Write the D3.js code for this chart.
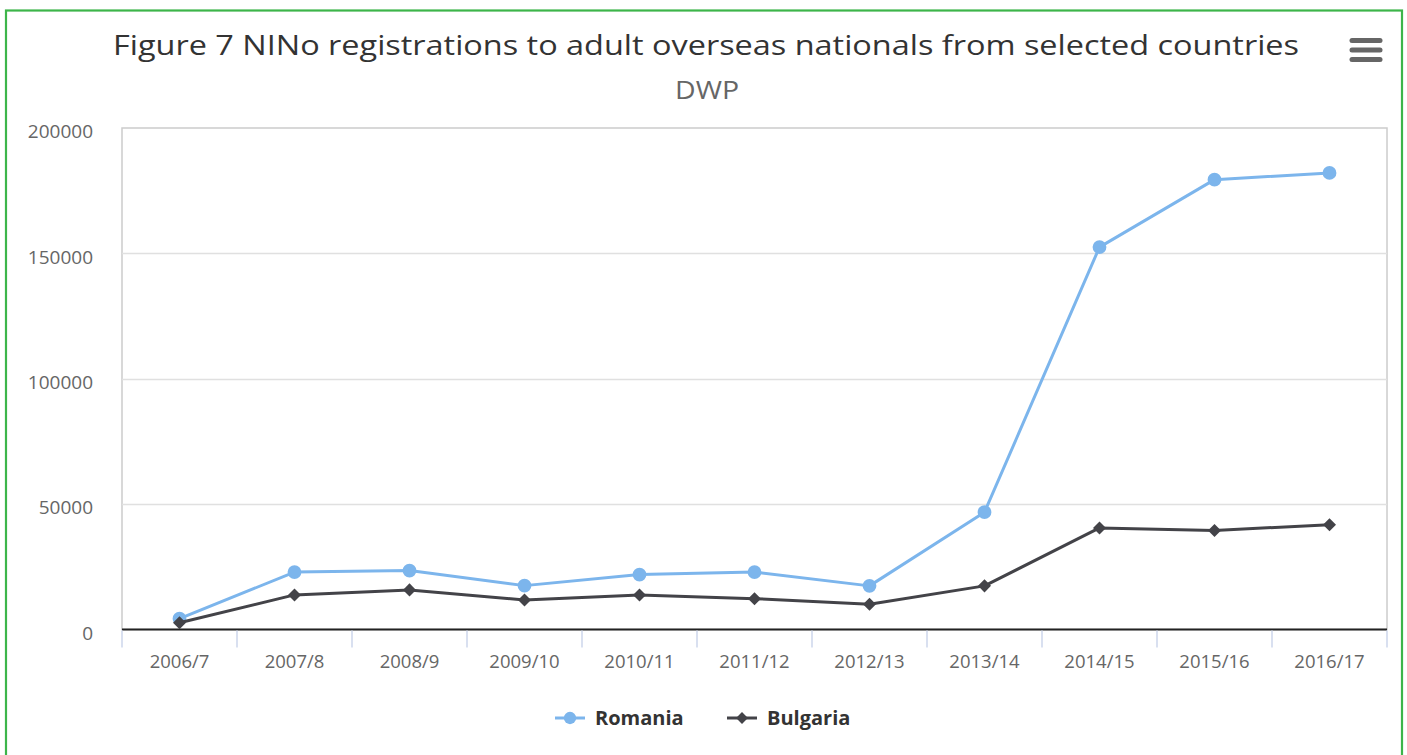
<!DOCTYPE html>
<html>
<head>
<meta charset="utf-8">
<script src="https://cdn.jsdelivr.net/npm/d3@7"></script>
<style>
  html, body { margin: 0; padding: 0; background: #fff; }
  svg { display: block; font-family: "Open Sans", "Noto Sans", sans-serif; }
</style>
</head>
<body>
<svg id="chart" width="1407" height="755"></svg>
<script>
// NINo registrations by year of registration
const years = ["2006/7", "2007/8", "2008/9", "2009/10", "2010/11", "2011/12",
               "2012/13", "2013/14", "2014/15", "2015/16", "2016/17"];
const romania  = [4300, 22900, 23500, 17500, 21900, 22900, 17400, 46800, 152500, 179400, 182100];
const bulgaria = [2700, 13800, 15800, 11800, 13800, 12300, 10100, 17400, 40500, 39500, 41800];
const yTicks = [0, 50000, 100000, 150000, 200000];

const titleText = "Figure 7 NINo registrations to adult overseas nationals from selected countries";
const subtitleText = "DWP";

// circles for Romania, square diamonds (rotated squares) for Bulgaria
const series = [
  { name: "Romania",  values: romania,  color: "#7cb5ec", symbol: d3.symbolCircle, rot: 0,  size: 150, legendSize: 120 },
  { name: "Bulgaria", values: bulgaria, color: "#434348", symbol: d3.symbolSquare, rot: 45, size: 85,  legendSize: 70 }
];

const plot = { left: 122, right: 1387, top: 128, bottom: 629.5 };

const svg = d3.select("#chart");

// outer frame
svg.append("rect")
  .attr("x", 6).attr("y", 10.5).attr("width", 1396).attr("height", 760)
  .attr("fill", "#fff").attr("stroke", "#3db54a").attr("stroke-width", 2.2);

// title and subtitle
svg.append("text")
  .attr("x", 706).attr("y", 55)
  .attr("text-anchor", "middle")
  .attr("fill", "#333333")
  .attr("font-size", 28)
  .attr("textLength", 1186).attr("lengthAdjust", "spacingAndGlyphs")
  .text(titleText);

svg.append("text")
  .attr("x", 707).attr("y", 99)
  .attr("text-anchor", "middle")
  .attr("fill", "#666666")
  .attr("font-size", 25)
  .attr("textLength", 64).attr("lengthAdjust", "spacingAndGlyphs")
  .text(subtitleText);

// context menu button
const menu = svg.append("g").attr("stroke", "#666").attr("stroke-width", 5).attr("stroke-linecap", "round");
[40.5, 50, 59.5].forEach(y => {
  menu.append("line").attr("x1", 1352).attr("x2", 1380).attr("y1", y).attr("y2", y);
});

// scales
const x = d3.scaleBand().domain(years).range([plot.left, plot.right]);
const y = d3.scaleLinear().domain([0, 200000]).range([plot.bottom, plot.top]);

// plot background border
svg.append("rect")
  .attr("x", plot.left).attr("y", plot.top)
  .attr("width", plot.right - plot.left).attr("height", plot.bottom - plot.top)
  .attr("fill", "none").attr("stroke", "#cccccc").attr("stroke-width", 1.5);

// horizontal gridlines
svg.append("g")
  .selectAll("line")
  .data(yTicks.filter(d => d > 0 && d < 200000))
  .join("line")
  .attr("x1", plot.left).attr("x2", plot.right)
  .attr("y1", d => Math.round(y(d)) + 0.5).attr("y2", d => Math.round(y(d)) + 0.5)
  .attr("stroke", "#e0e0e0").attr("stroke-width", 1.5);

// y axis labels
const yAxis = d3.axisLeft(y).tickValues(yTicks).tickSize(0).tickPadding(0).tickFormat(d3.format("d"));
const yG = svg.append("g").attr("transform", `translate(${plot.left - 29},3)`).call(yAxis);
yG.select(".domain").remove();
yG.selectAll("text").attr("fill", "#666666").attr("font-size", 19).attr("dy", "0.35em")
  .attr("font-family", "'Open Sans', sans-serif");

// x axis with ticks at category boundaries
const xG = svg.append("g").attr("transform", `translate(0,${plot.bottom})`);
xG.append("line")
  .attr("x1", plot.left).attr("x2", plot.right)
  .attr("stroke", "#222").attr("stroke-width", 2);
const bounds = years.map(d => x(d)).concat([x(years[years.length - 1]) + x.bandwidth()]);
xG.selectAll("line.tick")
  .data(bounds)
  .join("line").attr("class", "tick")
  .attr("x1", d => d).attr("x2", d => d)
  .attr("y1", 1).attr("y2", 18)
  .attr("stroke", "#ccd6eb").attr("stroke-width", 1.5);
xG.selectAll("text")
  .data(years)
  .join("text")
  .attr("x", d => x(d) + x.bandwidth() / 2)
  .attr("y", 38)
  .attr("text-anchor", "middle")
  .attr("fill", "#666666")
  .attr("font-size", 18.5)
  .text(d => d);

// series lines and markers
const line = d3.line()
  .x((d, i) => x(years[i]) + x.bandwidth() / 2)
  .y(d => y(d));

series.forEach(s => {
  svg.append("path")
    .datum(s.values)
    .attr("d", line)
    .attr("fill", "none")
    .attr("stroke", s.color)
    .attr("stroke-width", 3)
    .attr("stroke-linejoin", "round");
  svg.append("g")
    .selectAll("path")
    .data(s.values)
    .join("path")
    .attr("transform", (d, i) => `translate(${x(years[i]) + x.bandwidth() / 2},${y(d)}) rotate(${s.rot})`)
    .attr("d", d3.symbol().type(s.symbol).size(s.size))
    .attr("fill", s.color);
});

// legend
const legendItems = [
  { s: series[0], x0: 555, tx: 595 },
  { s: series[1], x0: 727, tx: 767 }
];
const lg = svg.append("g");
legendItems.forEach(it => {
  const ly = 718;
  lg.append("line")
    .attr("x1", it.x0).attr("x2", it.x0 + 30).attr("y1", ly).attr("y2", ly)
    .attr("stroke", it.s.color).attr("stroke-width", 3);
  lg.append("path")
    .attr("transform", `translate(${it.x0 + 15},${ly}) rotate(${it.s.rot})`)
    .attr("d", d3.symbol().type(it.s.symbol).size(it.s.legendSize))
    .attr("fill", it.s.color);
  lg.append("text")
    .attr("x", it.tx).attr("y", ly)
    .attr("dy", "0.35em")
    .attr("fill", "#333333")
    .attr("font-size", 20)
    .attr("font-weight", "bold")
    .text(it.s.name);
});
</script>
</body>
</html>
